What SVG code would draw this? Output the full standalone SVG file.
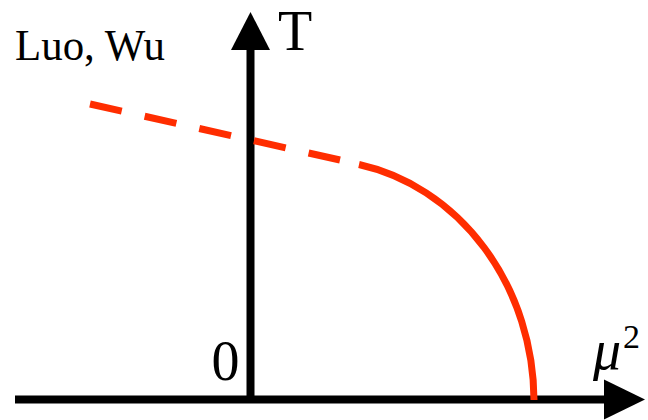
<svg xmlns="http://www.w3.org/2000/svg" width="648" height="420" viewBox="0 0 648 420">
  <style>
    .axis { stroke: #000; stroke-width: 8; fill: none; }
    .head { fill: #000; }
    .curve { stroke: #ff2d00; stroke-width: 7; fill: none; stroke-linecap: butt; }
    .lbl { font-family: "Liberation Serif", "DejaVu Serif", serif; fill: #000; }
  </style>
  <rect width="648" height="420" fill="#fff"/>
  <g id="connectors">
    <line class="axis" x1="15" y1="399.5" x2="606" y2="399.5"/>
    <polygon class="head" points="604,379.5 645,399.5 604,419.5"/>
    <line class="axis" x1="250.5" y1="399.5" x2="250.5" y2="48"/>
    <polygon class="head" points="231,50 250.5,12 270,50"/>
  </g>
  <g id="curve">
    <path class="curve" d="M90,104 L340,160" stroke-dasharray="32.5 23.5"/>
    <path class="curve" d="M359,164.5 A217.8 241.7 0 0 1 534,400"/>
  </g>
  <g id="labels">
    <text class="lbl" x="15" y="60" font-size="45" textLength="150" lengthAdjust="spacingAndGlyphs">Luo, Wu</text>
    <text class="lbl" x="278" y="50" font-size="56">T</text>
    <text class="lbl" x="225.5" y="380" font-size="56" text-anchor="middle">0</text>
    <text class="lbl" x="593" y="369" font-size="56" font-style="italic">μ</text>
    <text class="lbl" x="623" y="348" font-size="34">2</text>
  </g>
</svg>
